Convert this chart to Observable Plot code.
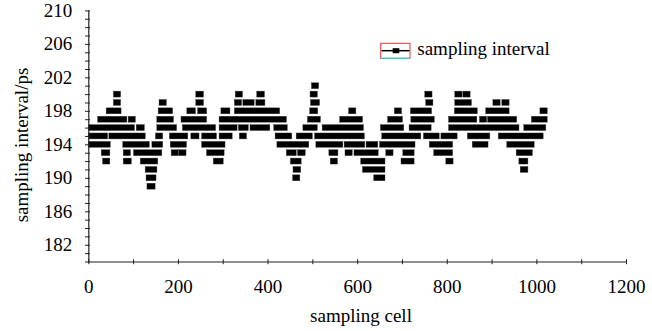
<!DOCTYPE html>
<html><head><meta charset="utf-8">
<script src="https://cdn.jsdelivr.net/npm/d3@7"></script>
<script src="https://cdn.jsdelivr.net/npm/@observablehq/plot@0.6"></script>
<style>
body{margin:0;background:#fff}
svg{font-family:"Liberation Serif","Times New Roman",serif}
</style>
</head><body><div id="chart"></div>
<script>
// Runs of consecutive sampling cells (first cell, last cell) per sampling-interval value (ps)
const cells201 = [[506,506]];
const cells200 = [[64,64],[248,249],[336,336],[384,385],[503,503],[759,759],[826,826],[844,844]];
const cells199 = [[64,64],[166,166],[248,249],[334,334],[353,362],[382,386],[504,508],[761,761],[826,847],[911,911],[931,931]];
const cells198 = [[48,65],[164,180],[228,231],[252,256],[304,308],[334,419],[502,504],[589,589],[691,691],[727,758],[825,860],[895,931],[1016,1016]];
const cells197 = [[29,78],[97,97],[161,182],[215,256],[300,434],[497,510],[569,604],[676,693],[728,764],[812,859],[881,881],[899,948],[997,1016]];
const cells196 = [[0,95],[115,117],[161,189],[218,276],[300,324],[343,349],[369,397],[422,436],[487,503],[530,606],[660,696],[724,757],[812,953],[980,1013]];
const cells195 = [[0,35],[54,119],[158,158],[189,214],[237,239],[261,278],[300,313],[345,345],[425,446],[472,492],[513,608],[663,734],[756,775],[795,815],[854,888],[923,1007]];
const cells194 = [[0,41],[85,128],[150,158],[191,211],[261,297],[429,484],[516,560],[579,609],[628,638],[658,721],[769,805],[865,884],[942,987]];
const cells193 = [[37,40],[86,86],[109,156],[193,193],[210,210],[272,295],[450,456],[475,476],[545,549],[581,581],[601,639],[672,672],[710,719],[779,805],[963,983]];
const cells192 = [[40,40],[86,88],[124,147],[287,293],[459,467],[548,548],[616,654],[706,719],[806,806],[969,973]];
const cells191 = [[135,145],[465,466],[620,654],[972,973]];
const cells190 = [[137,143],[464,464],[645,654]];
const cells189 = [[139,141]];

const rows = [
  [201, cells201],[200, cells200],[199, cells199],[198, cells198],[197, cells197],
  [196, cells196],[195, cells195],[194, cells194],[193, cells193],[192, cells192],
  [191, cells191],[190, cells190],[189, cells189]
];

const yMinorTicks = d3.range(180, 211, 1);
const yTickLabels = [182, 186, 190, 194, 198, 202, 206, 210];
const xMinorTicks = d3.range(0, 1201, 100);
const xTickLabels = [0, 200, 400, 600, 800, 1000, 1200];

const xTitle = "sampling cell";
const yTitle = "sampling interval/ps";
const legendLabel = "sampling interval";

const table = rows.flatMap(([v, list]) => list.map(([a, b]) => ({v, a, b})));

const axisColor = "#222";

const plot = Plot.plot({
  width: 652,
  height: 331,
  marginLeft: 88.3,
  marginRight: 26,
  marginTop: 10.4,
  marginBottom: 69.5,
  x: {domain: [0, 1200], label: null},
  y: {domain: [180, 210], label: null},
  style: {fontFamily: '"Liberation Serif","Times New Roman",serif', fontSize: "19px", color: "#000", background: "#fff", overflow: "visible"},
  marks: [
    Plot.rect(table, {
      x1: "a", x2: "b",
      y1: d => d.v - 0.5, y2: d => d.v + 0.5,
      insetLeft: -3.65, insetRight: -3.65, insetTop: 1.2, insetBottom: 1.2,
      fill: "#000", stroke: "#444", strokeWidth: 0.4, clip: true
    }),
    Plot.axisY({ticks: yMinorTicks, tickSize: 5, dx: 1.7, tickFormat: () => "", stroke: axisColor, label: null}),
    Plot.axisY({ticks: yTickLabels, tickSize: 0, tickPadding: 16.5, tickFormat: d => String(d), label: null, fill: "#000"}),
    Plot.axisX({ticks: xMinorTicks, tickSize: 5, dy: -2.3, tickFormat: () => "", stroke: axisColor, label: null}),
    Plot.axisX({ticks: xTickLabels, tickSize: 0, tickPadding: 17.8, tickFormat: d => String(d), label: null, fill: "#000"}),
    Plot.ruleX([0], {stroke: axisColor, strokeWidth: 1.2}),
    Plot.ruleY([180], {stroke: axisColor, strokeWidth: 1.2})
  ]
});

document.getElementById("chart").appendChild(plot);

const svg = d3.select(plot);
// axis titles
svg.append("text")
  .attr("transform", "translate(27.5,145) rotate(-90)")
  .attr("text-anchor", "middle")
  .attr("font-size", 19)
  .attr("fill", "#000")
  .text(yTitle);
svg.append("text")
  .attr("x", 361).attr("y", 322)
  .attr("text-anchor", "middle")
  .attr("font-size", 19)
  .attr("fill", "#000")
  .text(xTitle);

// legend
const lg = svg.append("g");
lg.append("rect").attr("x", 380.7).attr("y", 43.3).attr("width", 29.3).attr("height", 15)
  .attr("fill", "none").attr("stroke", "#e53935").attr("stroke-width", 1);
lg.append("line").attr("x1", 380.7).attr("x2", 410).attr("y1", 58.3).attr("y2", 58.3)
  .attr("stroke", "#27d8e0").attr("stroke-width", 1.2);
lg.append("line").attr("x1", 381.5).attr("x2", 409.5).attr("y1", 50.7).attr("y2", 50.7)
  .attr("stroke", "#000").attr("stroke-width", 1.5);
lg.append("rect").attr("x", 392.7).attr("y", 48.2).attr("width", 6.6).attr("height", 5).attr("fill", "#000");
lg.append("text").attr("x", 417.3).attr("y", 54.5).attr("text-anchor", "start")
  .attr("font-size", 19).attr("fill", "#000").text(legendLabel);
</script>
</body></html>
